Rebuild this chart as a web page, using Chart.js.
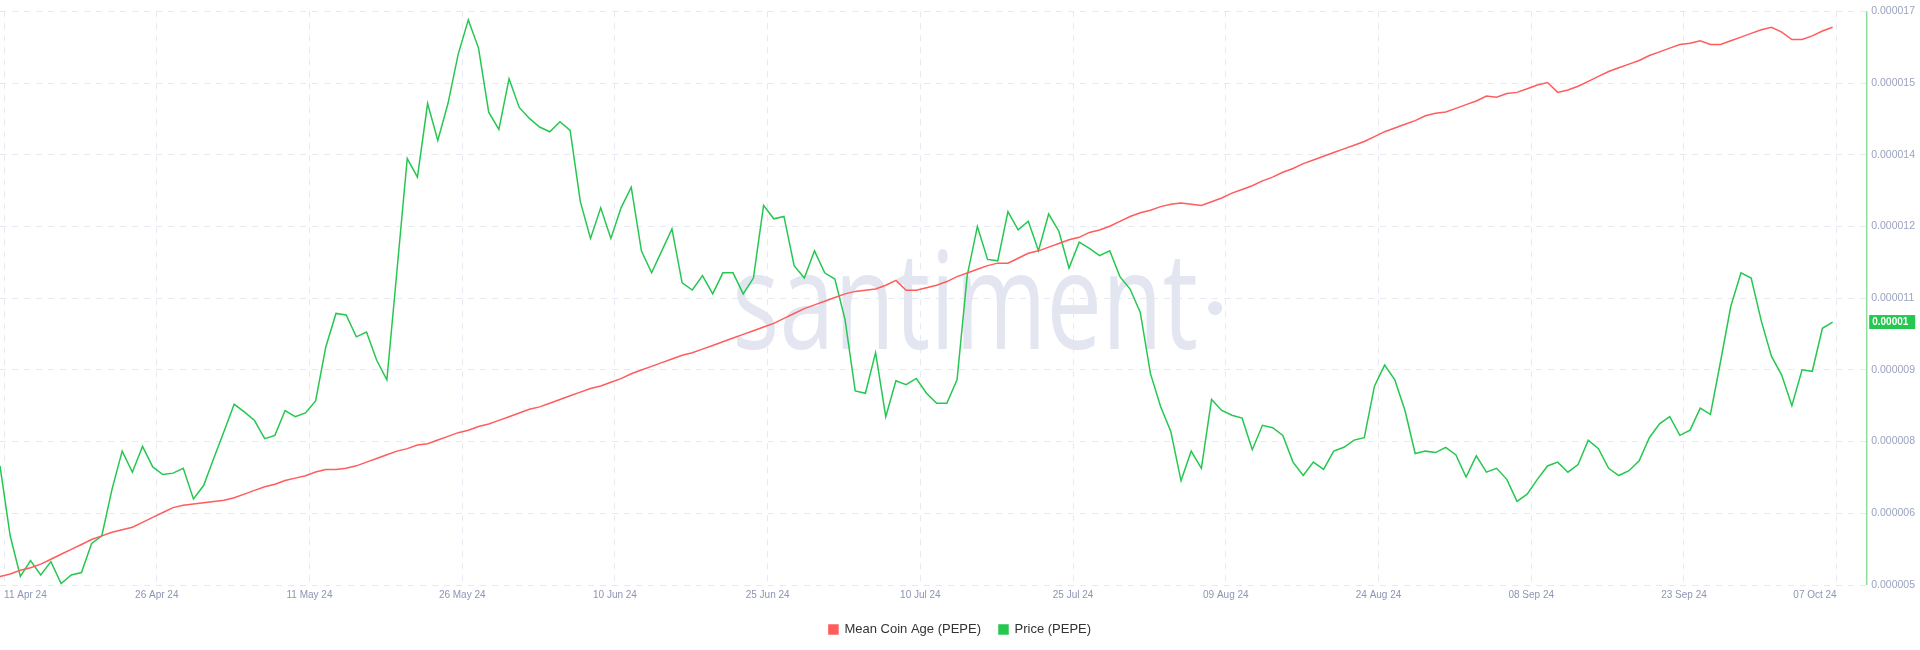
<!DOCTYPE html>
<html><head><meta charset="utf-8">
<script src="https://cdn.jsdelivr.net/npm/chart.js@4"></script>
<style>html,body{margin:0;padding:0;background:#fff}#w{width:1920px;height:650px}</style>
</head><body><div id="w"><canvas id="c"></canvas></div>
<script>
// Price in units of 1e-6 USD, one value per day starting 10 Apr 24
const priceE6 = [7.49,6.03,5.18,5.51,5.21,5.49,5.03,5.21,5.26,5.87,6.03,7.00,7.80,7.36,7.90,7.47,7.31,7.34,7.44,6.80,
7.08,7.65,8.21,8.78,8.62,8.44,8.06,8.13,8.65,8.52,8.60,8.85,9.98,10.68,10.65,10.19,10.29,9.70,9.29,11.60,
13.92,13.53,15.07,14.30,15.07,16.10,16.82,16.23,14.89,14.53,15.59,14.99,14.76,14.58,14.48,14.69,14.51,13.02,12.25,12.89,
12.25,12.89,13.32,11.99,11.53,11.99,12.45,11.32,11.17,11.47,11.09,11.53,11.53,11.09,11.42,12.94,12.66,12.71,11.68,11.42,
11.99,11.53,11.40,10.55,9.06,9.01,9.86,8.52,9.27,9.19,9.32,9.01,8.80,8.80,9.29,11.47,12.50,11.81,11.78,12.81,
12.43,12.61,11.99,12.76,12.40,11.63,12.17,12.04,11.89,11.99,11.45,11.19,10.70,9.42,8.73,8.21,7.18,7.80,7.44,8.88,
8.65,8.55,8.49,7.83,8.34,8.29,8.13,7.57,7.29,7.57,7.42,7.80,7.88,8.03,8.08,9.16,9.60,9.29,8.65,7.75,
7.80,7.77,7.88,7.72,7.26,7.70,7.36,7.44,7.21,6.75,6.90,7.21,7.49,7.57,7.36,7.52,8.03,7.85,7.44,7.29,
7.39,7.60,8.08,8.37,8.52,8.13,8.24,8.70,8.57,9.68,10.83,11.53,11.42,10.52,9.78,9.39,8.75,9.50,9.47,10.37,10.50];
// Mean coin age (relative units, hidden axis)
const meanCoinAge = [7,9,12,14,17,21,25,29,33,37,40,43,45,47,51,55,59,63,65,66,
67,68,69,71,74,77,80,82,85,87,89,92,94,94,95,97,100,103,106,109,
111,114,115,118,121,124,126,129,131,134,137,140,143,145,148,151,154,157,160,162,
165,168,172,175,178,181,184,187,189,192,195,198,201,204,207,210,213,217,221,225,
228,231,234,237,239,240,241,244,248,240,240,242,244,247,251,254,257,260,262,262,
266,270,272,275,278,281,283,287,289,292,296,300,303,305,308,310,311,310,309,312,
315,319,322,325,329,332,336,339,343,346,349,352,355,358,361,365,369,372,375,378,
382,384,385,388,391,394,398,397,400,401,404,407,409,401,403,406,410,414,418,421,
424,427,431,434,437,440,441,443,440,440,443,446,449,452,454,450,444,444,447,451,454];
const dateTickPos = [0.4,15.4,30.4,45.4,60.4,75.4,90.4,105.4,120.4,135.4,150.4,165.4,180.4];
const dateTickLabels = ['11 Apr 24','26 Apr 24','11 May 24','26 May 24','10 Jun 24','25 Jun 24','10 Jul 24','25 Jul 24','09 Aug 24','24 Aug 24','08 Sep 24','23 Sep 24','07 Oct 24'];
const priceTickLabels = ['0.000005','0.000006','0.000008','0.000009','0.000011','0.000012','0.000014','0.000015','0.000017'];
const currentPriceLabel = '0.00001';

const RED='#ff5c5c', GREEN='#26c751';
const toPts = a => a.map((v,i)=>({x:i,y:v}));

const watermark = {id:'wm', beforeDatasetsDraw(ch){
  const {ctx,chartArea:a}=ch; ctx.save();
  const cx=(a.left+a.right)/2+32, cy=(a.top+a.bottom)/2+12;
  ctx.translate(cx,cy); ctx.scale(0.76,1.05);
  ctx.font='500 130px "Open Sans", sans-serif'; ctx.fillStyle='#e3e6f0';
  ctx.textAlign='center'; ctx.textBaseline='middle';
  ctx.fillText('santiment',0,0);
  ctx.restore(); ctx.save(); ctx.fillStyle='#e3e6f0';
  ctx.beginPath(); ctx.arc(cx+250,cy-2,7,0,7); ctx.fill();
  ctx.restore();}};
const axisLine = {id:'axl', afterDatasetsDraw(ch){
  const {ctx,chartArea:a}=ch; ctx.save(); ctx.strokeStyle='#8edc9c'; ctx.lineWidth=1.5;
  ctx.beginPath(); ctx.moveTo(a.right+0.5,a.top); ctx.lineTo(a.right+0.5,a.bottom); ctx.stroke(); ctx.restore();}};
const badge = {id:'badge', afterDraw(ch){
  const {ctx,chartArea:a}=ch, y=ch.scales.y.getPixelForValue(priceE6[priceE6.length-1]);
  ctx.save(); ctx.fillStyle=GREEN; ctx.fillRect(a.right+3,y-7,46,14);
  ctx.fillStyle='#fff'; ctx.font='bold 10px "Liberation Sans", Arial'; ctx.textBaseline='middle';
  ctx.fillText(currentPriceLabel,a.right+6,y+0.5); ctx.restore();}};

new Chart(document.getElementById('c'),{
  type:'line',
  data:{datasets:[
    {label:'Mean Coin Age (PEPE)',data:toPts(meanCoinAge),borderColor:RED,backgroundColor:RED,borderWidth:1.5,pointRadius:0,tension:0,yAxisID:'y2'},
    {label:'Price (PEPE)',data:toPts(priceE6),borderColor:GREEN,backgroundColor:GREEN,borderWidth:1.5,pointRadius:0,tension:0,yAxisID:'y'}
  ]},
  options:{responsive:true,maintainAspectRatio:false,animation:false,
    layout:{padding:{top:6,right:0,left:0,bottom:4}},
    plugins:{tooltip:{enabled:false},
      legend:{position:'bottom',labels:{boxWidth:9,boxHeight:9,padding:18,color:'#333',font:{size:13,family:'"Liberation Sans", Arial'}}}},
    scales:{
      x:{type:'linear',min:0,max:183.3,
        afterBuildTicks:s=>{s.ticks=dateTickPos.map(v=>({value:v}));},
        ticks:{autoSkip:false,maxRotation:0,align:'inner',color:'#8c95b3',font:{size:10,family:'"Liberation Sans", Arial'},padding:4,
          callback:(v)=>{const i=dateTickPos.indexOf(v);return i>=0?dateTickLabels[i]:'';}},
        grid:{color:'#e6e9f1',drawTicks:false},border:{display:false,dash:[6,6]}},
      y:{position:'right',min:5,max:17,
        afterBuildTicks:s=>{s.ticks=priceTickLabels.map((t,i)=>({value:5+1.5*i}));},
        ticks:{color:'#9aa3c0',font:{size:10.5,family:'"Liberation Sans", Arial'},padding:5,
          callback:(v)=>priceTickLabels[Math.round((v-5)/1.5)]},
        grid:{color:'#e6e9f1',drawTicks:false},border:{display:false,dash:[6,6]}},
      y2:{display:false,min:0,max:467}
    }},
  plugins:[watermark,axisLine,badge]
});
</script></body></html>
